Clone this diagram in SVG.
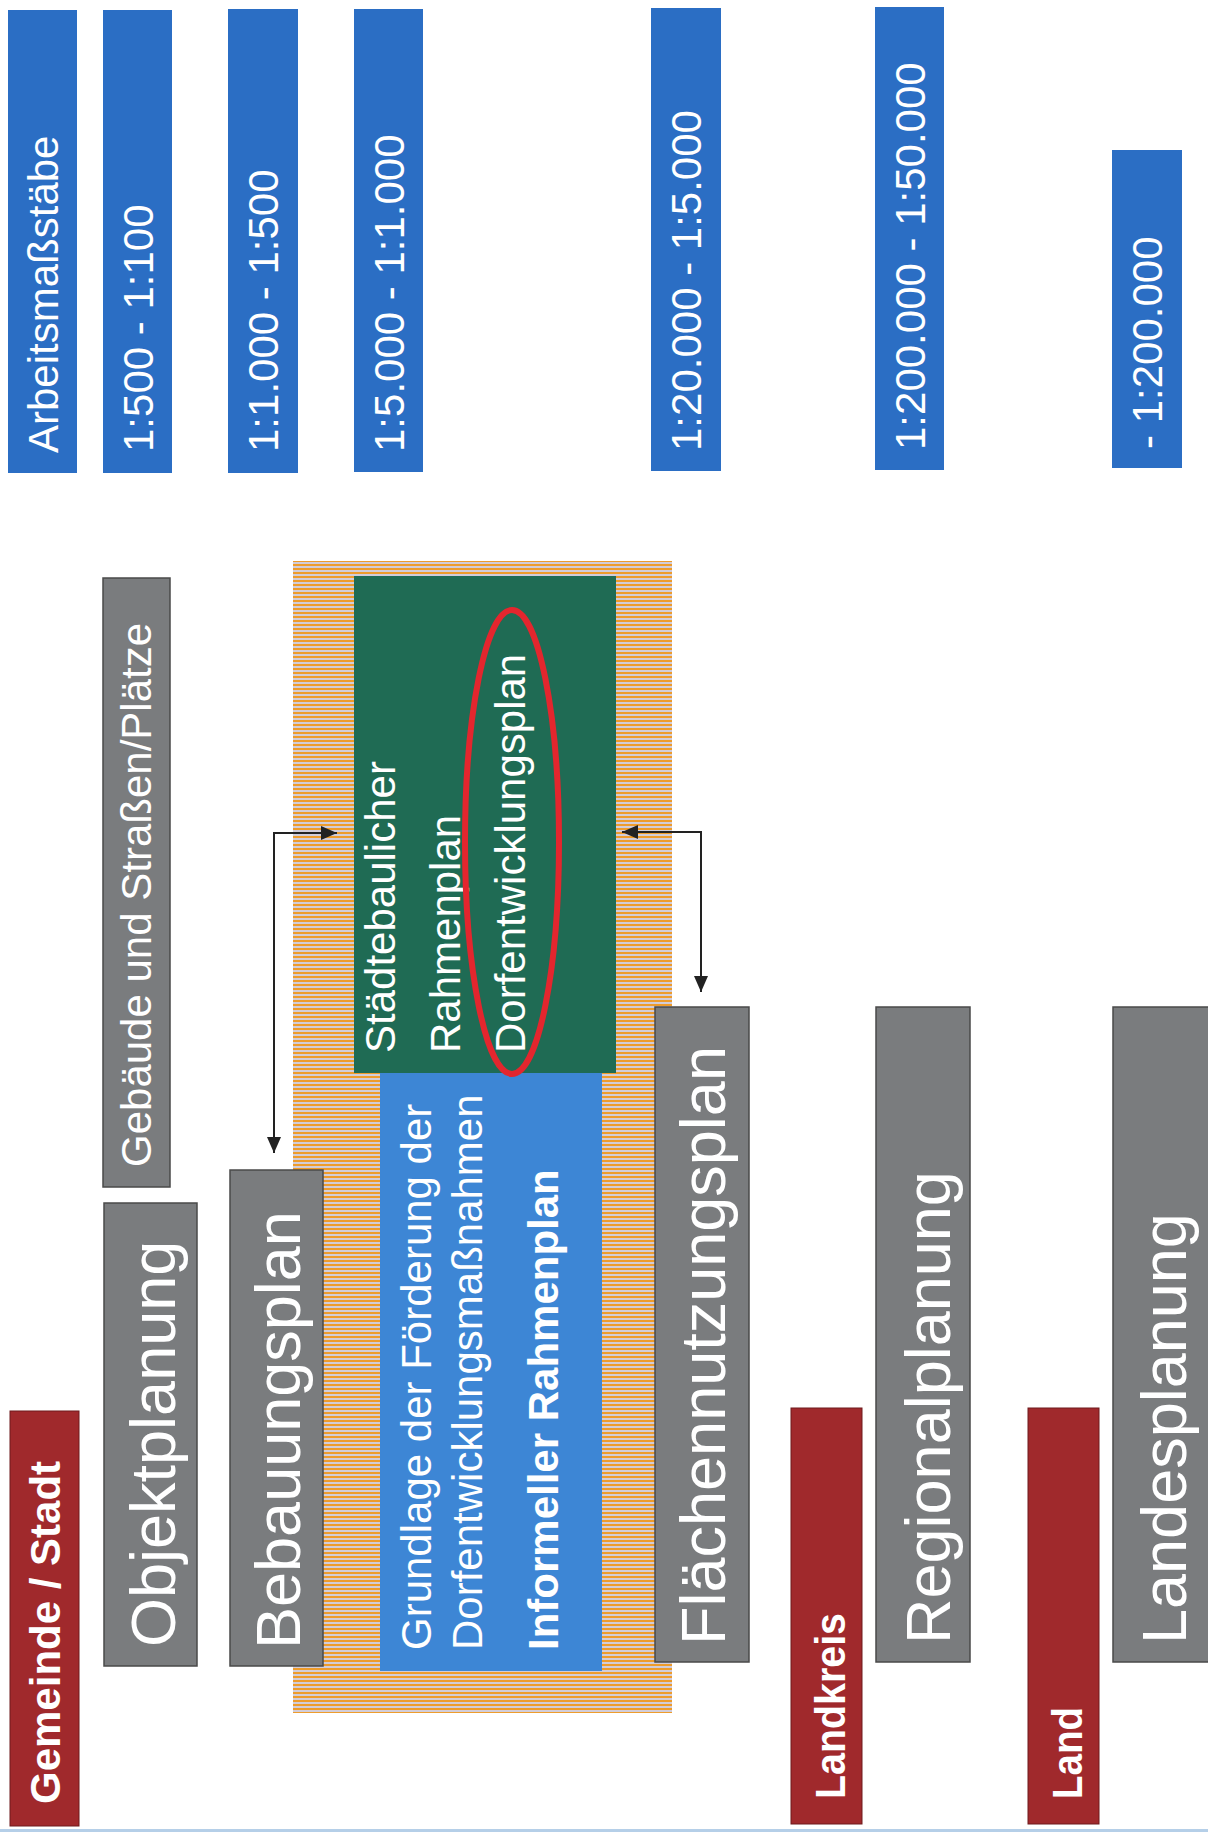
<svg xmlns="http://www.w3.org/2000/svg" width="1208" height="1832" viewBox="0 0 1208 1832">
<style>
text{font-family:"Liberation Sans",Arial,sans-serif;fill:#fff;}
.bar{fill:#2b6ec4;}
.gray{fill:#7a7c7e;stroke:#4a4a4a;stroke-width:1.5;}
.red{fill:#a0292c;stroke:#6e1a1c;stroke-width:1;}
.t42{font-size:42px;}
.t63{font-size:63px;}
.b42{font-size:42px;font-weight:bold;}
.conn{fill:none;stroke:#222;stroke-width:2;marker-start:url(#ah);marker-end:url(#ah);}
</style>
<defs>
<pattern id="hatch" patternUnits="userSpaceOnUse" width="8" height="4">
<rect width="8" height="4" fill="#d2cdd9"/>
<rect width="8" height="2" fill="#ee9c2c"/>
</pattern>
<marker id="ah" viewBox="0 0 16 14" refX="16" refY="7" markerWidth="16" markerHeight="14" markerUnits="userSpaceOnUse" orient="auto-start-reverse">
<path d="M0,0 L16,7 L0,14 z" fill="#222"/>
</marker>
</defs>
<rect width="1208" height="1832" fill="#fff"/>

<!-- scale bars -->
<g id="scale-header"><rect class="bar" x="8" y="10" width="69" height="463"/><text class="t42" transform="translate(58,453) rotate(-90)">Arbeitsmaßstäbe</text></g>
<g id="scale-1"><rect class="bar" x="103" y="10" width="69" height="463"/><text class="t42" transform="translate(153,452) rotate(-90)">1:500 - 1:100</text></g>
<g id="scale-2"><rect class="bar" x="228" y="9" width="70" height="464"/><text class="t42" transform="translate(278,452) rotate(-90)">1:1.000 - 1:500</text></g>
<g id="scale-3"><rect class="bar" x="354" y="9" width="69" height="463"/><text class="t42" transform="translate(404,452) rotate(-90)">1:5.000 - 1:1.000</text></g>
<g id="scale-4"><rect class="bar" x="651" y="8" width="70" height="463"/><text class="t42" transform="translate(701,451) rotate(-90)">1:20.000 - 1:5.000</text></g>
<g id="scale-5"><rect class="bar" x="875" y="7" width="69" height="463"/><text class="t42" transform="translate(925,450) rotate(-90)">1:200.000 - 1:50.000</text></g>
<g id="scale-6"><rect class="bar" x="1112" y="150" width="70" height="318"/><text class="t42" transform="translate(1162,449) rotate(-90)">- 1:200.000</text></g>

<!-- hatched background -->
<g id="informell-area"><rect x="293" y="561" width="379" height="1152" fill="url(#hatch)"/></g>

<g id="staedtebaulicher-rahmenplan">
<rect x="354" y="576" width="262" height="497" fill="#1f6b54"/>
<text class="t42" transform="translate(395,1053) rotate(-90)">Städtebaulicher</text>
<text class="t42" transform="translate(460,1053) rotate(-90)">Rahmenplan</text>
<text class="t42" transform="translate(525,1053) rotate(-90)">Dorfentwicklungsplan</text>
</g>

<g id="informeller-rahmenplan">
<rect x="380" y="1073" width="222" height="598" fill="#3d86d5"/>
<text class="t42" transform="translate(431,1650) rotate(-90)">Grundlage der Förderung der</text>
<text class="t42" transform="translate(482,1650) rotate(-90)">Dorfentwicklungsmaßnahmen</text>
<text class="b42" transform="translate(558,1650) rotate(-90)">Informeller Rahmenplan</text>
</g>

<g id="highlight"><ellipse cx="512" cy="842" rx="47" ry="232" fill="none" stroke="#e3262e" stroke-width="6"/></g>

<!-- level labels -->
<g id="gemeinde"><rect class="red" x="10" y="1411" width="69" height="415"/><text class="b42" transform="translate(60,1804) rotate(-90)">Gemeinde / Stadt</text></g>
<g id="landkreis"><rect class="red" x="791" y="1408" width="71" height="416"/><text class="b42" transform="translate(845,1799) rotate(-90)" textLength="186" lengthAdjust="spacingAndGlyphs">Landkreis</text></g>
<g id="land"><rect class="red" x="1028" y="1408" width="71" height="416"/><text class="b42" transform="translate(1082,1799) rotate(-90)" textLength="92" lengthAdjust="spacingAndGlyphs">Land</text></g>

<!-- plan boxes -->
<g id="gebaeude"><rect class="gray" x="103" y="578" width="67" height="609"/><text class="t42" transform="translate(151,1167) rotate(-90)">Gebäude und Straßen/Plätze</text></g>
<g id="objektplanung"><rect class="gray" x="104" y="1203" width="93" height="463"/><text class="t63" transform="translate(175,1647) rotate(-90)">Objektplanung</text></g>
<g id="bebauungsplan"><rect class="gray" x="230" y="1170" width="93" height="496"/><text class="t63" transform="translate(300,1649) rotate(-90)">Bebauungsplan</text></g>
<g id="flaechennutzungsplan"><rect class="gray" x="655" y="1007" width="94" height="655"/><text class="t63" transform="translate(725,1645) rotate(-90)">Flächennutzungsplan</text></g>
<g id="regionalplanung"><rect class="gray" x="876" y="1007" width="94" height="655"/><text class="t63" transform="translate(950,1644) rotate(-90)">Regionalplanung</text></g>
<g id="landesplanung"><rect class="gray" x="1113" y="1007" width="96" height="655"/><text class="t63" transform="translate(1186,1644) rotate(-90)">Landesplanung</text></g>

<!-- connectors -->
<g id="connectors">
<path class="conn" d="M274,1153 V833 H337"/>
<path class="conn" d="M622,832 H701 V992"/>
</g>

<rect x="0" y="1829" width="1208" height="3" fill="#b5cfe8"/>
</svg>
